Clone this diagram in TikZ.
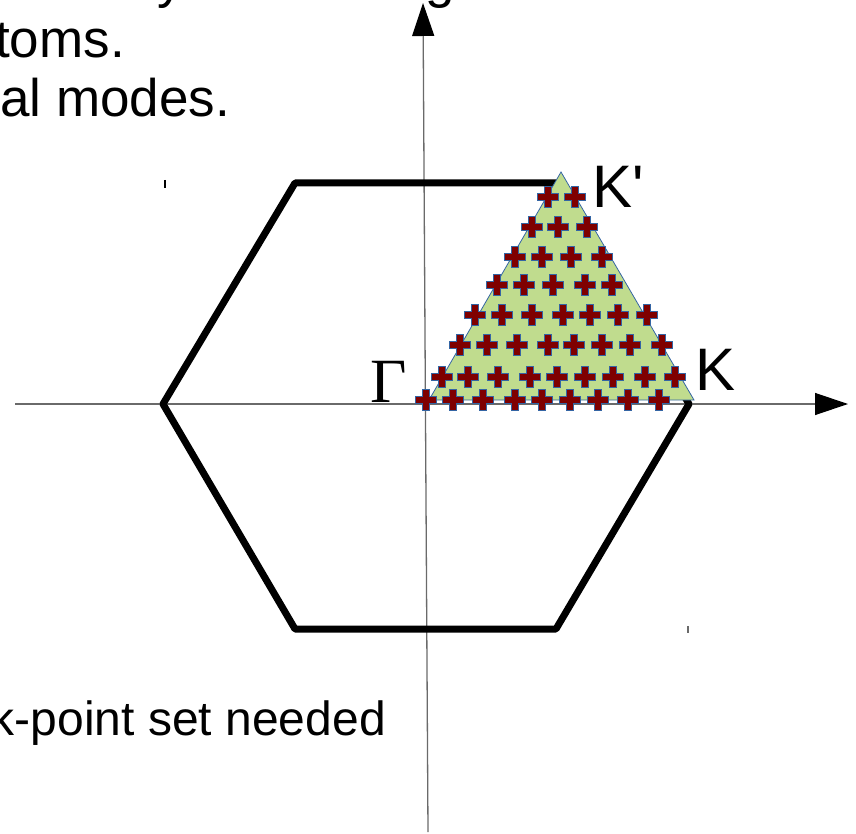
\documentclass[tikz,border=0pt]{standalone}
\usepackage{fontspec}
\setmainfont{Liberation Sans}
\newfontfamily\labelsans{Liberation Sans}
\newfontfamily\greekserif{Liberation Serif}
\usetikzlibrary{arrows.meta}

\definecolor{bzGreen}{HTML}{C0DC8E}
\definecolor{bzRed}{HTML}{7F0000}
\definecolor{bzBlue}{HTML}{3465A4}
\definecolor{bzAxis}{HTML}{6A6A6A}

\tikzset{
  axisline/.style={bzAxis,line width=1.3pt,-{Triangle[length=33pt,width=22pt,color=black]}},
  zoneedge/.style={line width=7pt,line join=round},
  slidetext/.style={anchor=base west,inner sep=0pt,font=\fontsize{53}{60}\selectfont},
  symlabel/.style={anchor=base west,inner sep=0pt,font=\labelsans\fontsize{60}{66}\selectfont},
  kcross/.style={fill=bzRed,draw=bzBlue,line width=0.5pt},
}

\begin{document}
\begin{tikzpicture}[x=1pt,y=-1pt]
  \useasboundingbox (0,0) rectangle (856,834);
  \clip (0,0) rectangle (856,834);
  % axes
  \coordinate (xstart) at (15,404);
  \coordinate (xend) at (848,404);
  \coordinate (ystart) at (428,832);
  \coordinate (yend) at (423,3);
  \draw[axisline] (xstart) -- (xend);
  \draw[axisline] (ystart) -- (yend);
  \draw[line width=1.2pt] (165,180) -- (165,188);
  \draw[bzAxis,line width=1.2pt] (688,626) -- (688,633);
  % first Brillouin zone
  \draw[zoneedge] (163,404) -- (295,183) -- (556,183) -- (689,404)
    -- (556,629) -- (295,629) -- cycle;
  % irreducible wedge
  \filldraw[fill=bzGreen,draw=bzBlue,line width=0.8pt]
    (429,400) -- (561,172) -- (694,400) -- cycle;
  % k-points
  \foreach \yy/\xlist in {197/{548,575}, 227/{532,558,587},
      257/{515,542,571,602}, 285/{497,524,553,585,612},
      315/{475,502,532,563,590,618,647},
      345/{460,487,517,548,574,602,630,662},
      377/{442,468,498,530,557,585,613,645,675},
      400/{426,453,483,515,542,570,598,628,659}} {
    \foreach \xx in \xlist {
      \draw[kcross,shift={(\xx,\yy)}] (-10.5,-3.5) -- (-3.5,-3.5) -- (-3.5,-10.5)
        -- (3.5,-10.5) -- (3.5,-3.5) -- (10.5,-3.5) -- (10.5,3.5) -- (3.5,3.5)
        -- (3.5,10.5) -- (-3.5,10.5) -- (-3.5,3.5) -- (-10.5,3.5) -- cycle;
    }
  }
  % labels
  \node[symlabel] (kprime) at (592,208) {K'};
  \node[symlabel] (kpoint) at (695,390) {K};
  \node[anchor=base west,inner sep=0pt,font=\greekserif\fontsize{63}{70}\selectfont]
    (gamma) at (370,402) {Γ};
  % slide text
  \node[slidetext] (cutY) at (157,-2) {y};
  \node[slidetext] (cutG) at (425,-2) {g};
  \node[slidetext,anchor=base east] (atomsLine) at (125,58) {toms.};
  \node[slidetext] (modesLine) at (0,117) {al modes.};
  \node[slidetext,anchor=base east,font=\fontsize{48}{56}\selectfont]
    (kpointLine) at (386,735) {k-point set needed};
\end{tikzpicture}
\end{document}
